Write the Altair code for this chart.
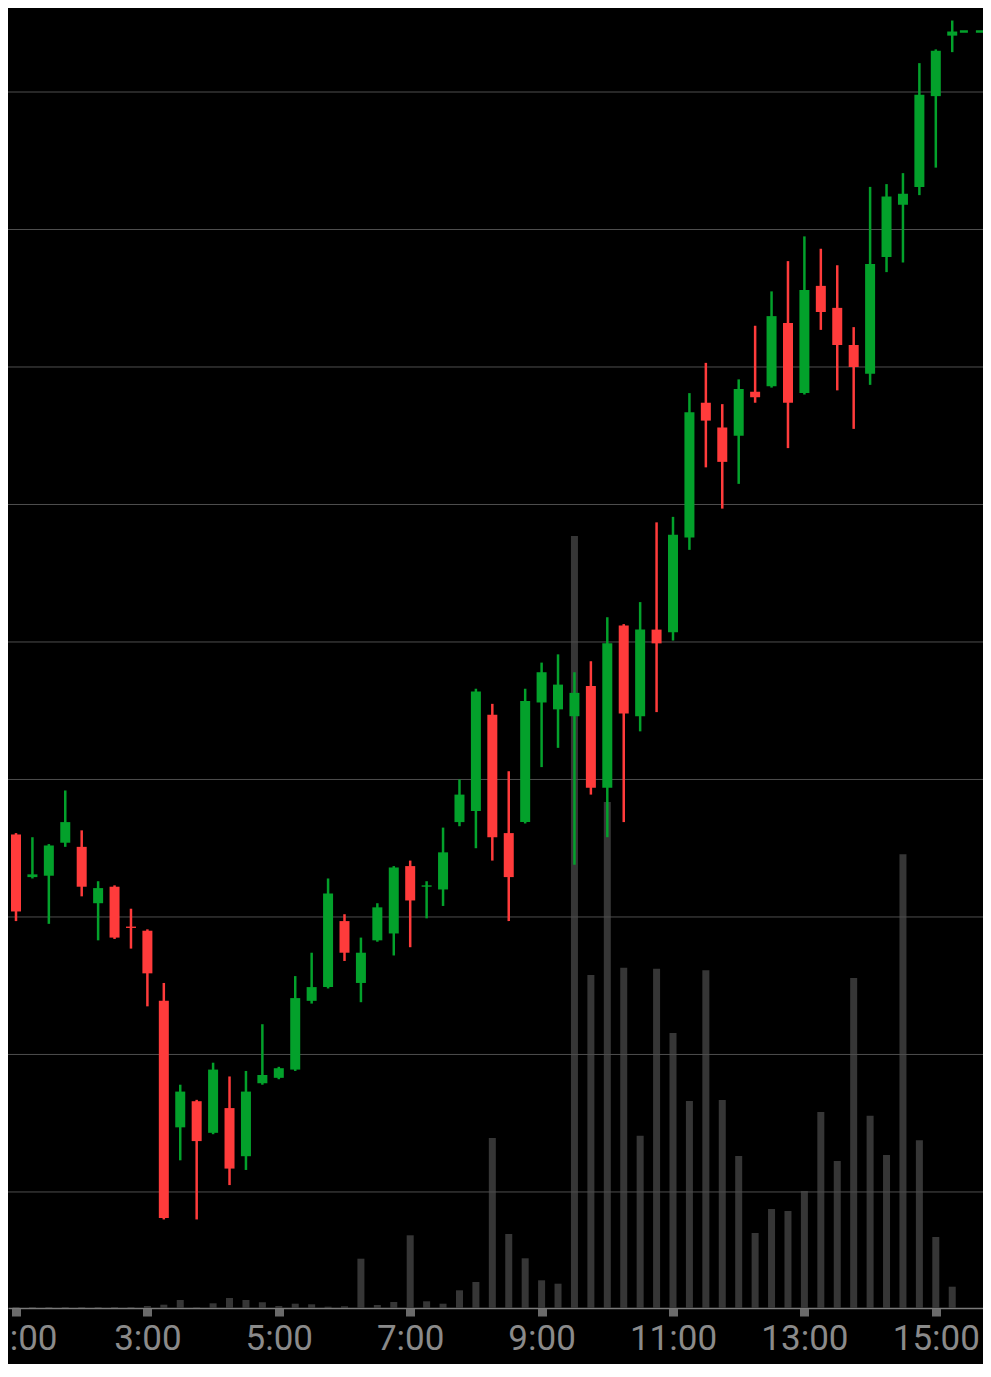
import altair as alt
import pandas as pd

# ---- data (15-minute candles) ----
times = ["0:45",
         "1:00", "1:15", "1:30", "1:45", "2:00", "2:15", "2:30", "2:45",
         "3:00", "3:15", "3:30", "3:45", "4:00", "4:15", "4:30", "4:45",
         "5:00", "5:15", "5:30", "5:45", "6:00", "6:15", "6:30", "6:45",
         "7:00", "7:15", "7:30", "7:45", "8:00", "8:15", "8:30", "8:45",
         "9:00", "9:15", "9:30", "9:45", "10:00", "10:15", "10:30", "10:45",
         "11:00", "11:15", "11:30", "11:45", "12:00", "12:15", "12:30", "12:45",
         "13:00", "13:15", "13:30", "13:45", "14:00", "14:15", "14:30", "14:45",
         "15:00", "15:15"]

opens = [127.7,
         126.0, 122.9, 123.0, 125.4, 125.1, 121.0, 122.2, 119.3,
         119.0, 113.9, 104.7, 106.6, 104.3, 106.1, 102.6, 107.9,
         108.3, 108.9, 113.9, 114.9, 119.7, 115.2, 118.3, 118.8,
         123.7, 122.2, 122.0, 126.9, 127.7, 134.7, 126.1, 126.9,
         135.6, 135.1, 134.6, 136.8, 129.4, 141.2, 134.6, 140.9,
         140.7, 147.6, 157.4, 155.6, 155.0, 158.2, 158.6, 163.2,
         158.1, 165.9, 164.3, 161.6, 159.5, 168.0, 171.8, 173.1,
         179.7, 184.1]

highs = [131.9,
         126.1, 125.8, 125.3, 129.2, 126.3, 122.6, 122.3, 120.6,
         119.1, 115.2, 107.8, 106.7, 109.4, 108.4, 108.8, 112.2,
         109.1, 115.7, 117.4, 122.8, 120.2, 118.5, 121.0, 123.7,
         124.1, 122.6, 126.5, 130.0, 136.6, 135.5, 130.6, 136.6,
         138.5, 139.1, 137.8, 138.6, 141.8, 141.3, 142.9, 148.7,
         149.1, 158.1, 160.3, 157.3, 159.1, 163.0, 165.5, 167.7,
         169.5, 168.6, 167.4, 162.9, 173.1, 173.3, 174.1, 182.1,
         183.1, 185.2]

lows = [124.8,
        119.7, 122.8, 119.5, 125.1, 121.5, 118.3, 118.4, 117.7,
        113.5, 98.0, 102.3, 98.0, 104.2, 100.5, 101.6, 107.8,
        108.2, 108.8, 113.7, 114.8, 116.8, 113.8, 118.2, 117.2,
        117.8, 119.9, 120.8, 126.6, 125.0, 124.1, 119.7, 126.8,
        130.9, 132.3, 123.8, 128.9, 125.8, 126.9, 133.5, 134.9,
        140.1, 146.7, 152.7, 149.7, 151.5, 157.4, 158.5, 154.1,
        158.0, 162.7, 158.3, 155.5, 158.7, 166.9, 167.6, 172.5,
        174.5, 182.9]

closes = [124.9,
          120.4, 123.1, 125.2, 126.9, 122.2, 122.1, 118.5, 119.2,
          115.9, 98.1, 107.3, 103.7, 108.9, 101.7, 107.3, 108.5,
          109.0, 114.1, 114.9, 121.7, 117.4, 117.4, 120.7, 123.6,
          121.2, 122.3, 124.7, 128.9, 136.4, 125.8, 122.9, 135.7,
          137.8, 136.9, 136.3, 129.4, 139.9, 134.8, 140.9, 139.9,
          147.8, 156.7, 156.1, 153.1, 158.4, 157.8, 163.7, 157.4,
          165.6, 164.0, 161.6, 160.0, 167.5, 172.4, 172.6, 179.8,
          183.0, 184.4]

volumes = [100,
           100, 100, 100, 100, 100, 100, 100, 100,
           200, 330, 800, 70, 470, 1000, 800, 570,
           200, 430, 370, 130, 170, 4930, 300, 600,
           7270, 670, 430, 1770, 2600, 17000, 7400, 4970,
           2770, 2430, 77200, 33300, 50600, 34030, 17230, 33930,
           27500, 20700, 33770, 20800, 15200, 7500, 9900, 9700,
           11700, 19600, 14700, 33000, 19230, 15300, 45370, 16770,
           7100, 2130]

grid_levels = [100, 110, 120, 130, 140, 150, 160, 170, 180]
tick_labels = ["1:00", "3:00", "5:00", "7:00", "9:00", "11:00", "13:00", "15:00"]
last_line_start = "15:22"


def to_min(s):
    h, m = s.split(":")
    return int(h) * 60 + int(m)


X_DOMAIN = [52.7, 943.1]
P_DOMAIN = [91.56, 186.11]

df = pd.DataFrame({
    "t": [to_min(s) for s in times],
    "open": opens, "high": highs, "low": lows, "close": closes,
    "vol": volumes,
})
grid_df = pd.DataFrame({"level": grid_levels})
last_df = pd.DataFrame({"t": [to_min(last_line_start)], "t2": [X_DOMAIN[1]], "price": [closes[-1]]})
tick_values = [to_min(s) for s in tick_labels]

GREEN = "#03A12B"
RED = "#FF3B3B"

xscale = alt.Scale(domain=X_DOMAIN, nice=False, zero=False, padding=0)
pscale = alt.Scale(domain=P_DOMAIN, nice=False, zero=False)

x_axis = alt.Axis(
    values=tick_values,
    labelExpr="datum.value == 60 ? ':00' : floor(datum.value / 60) + ':00'",
    labelAlign={"condition": {"test": "datum.value == 60", "value": "right"}, "value": "center"},
    labelOffset={"condition": {"test": "datum.value == 60", "value": 41}, "value": 0},
    labelFont="Roboto", labelFontSize=35, labelColor="#8a8a8a",
    labelPadding=5, labelFlush=False, labelOverlap=False, labelBound=False,
    tickSize=8, tickWidth=9, tickColor="#6a6a6a",
    domainColor="#7a7a7a", domainWidth=1.5,
    grid=False, title=None,
)

X = alt.X("t:Q", scale=xscale, axis=x_axis)

base = alt.Chart(df)

volume = base.mark_bar(size=7, color="#363636", clip=True).encode(
    x=X,
    y=alt.Y("vol:Q", scale=alt.Scale(domain=[0, 130000], nice=False), axis=None),
)

grid = alt.Chart(grid_df).mark_rule(color="#4e4e4e", strokeWidth=1).encode(
    y=alt.Y("level:Q", scale=pscale, axis=None),
)

color_cond = alt.condition("datum.close >= datum.open", alt.value(GREEN), alt.value(RED))

wicks = base.mark_rule(strokeWidth=2.5, clip=True).encode(
    x=X,
    y=alt.Y("low:Q", scale=pscale, axis=None),
    y2="high:Q",
    color=color_cond,
)

bodies = base.mark_bar(size=10, clip=True).encode(
    x=X,
    y=alt.Y("open:Q", scale=pscale, axis=None),
    y2="close:Q",
    color=color_cond,
)

last_line = alt.Chart(last_df).mark_rule(
    color=GREEN, strokeWidth=2.5, strokeDash=[8, 8], clip=True
).encode(
    x=X,
    x2="t2:Q",
    y=alt.Y("price:Q", scale=pscale, axis=None),
)

chart = alt.layer(volume, grid, wicks, bodies, last_line).resolve_scale(
    y="independent"
).properties(
    width=975, height=1300,
    background="#000000",
    autosize=alt.AutoSizeParams(type="none"),
    padding={"left": 0, "top": 0, "right": 0, "bottom": 56},
).configure_view(strokeWidth=0)

chart.save("out.html", embed_options={"renderer": "svg", "actions": False})
